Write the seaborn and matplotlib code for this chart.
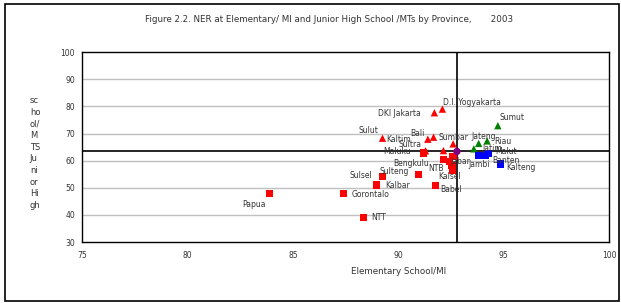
import matplotlib
matplotlib.use("Agg")
import matplotlib.pyplot as plt
import seaborn as sns
import pandas as pd
from matplotlib.patches import Rectangle
from matplotlib.ticker import MultipleLocator

# Data (NER 2003): elementary (x) vs junior high (y)
provinces = ["DKI Jakarta", "D.I. Yogyakarta", "Sulut", "Bali", "Kaltim", "Sumbar",
             "Sultra", "NAD",
             "Sumut", "Jateng", "Riau", "Jatim",
             "Jambi", "Banten", "Malut", "Kalteng",
             "Maluku", "Bengkulu", "Lampung", "Jabar", "NTB", "Kalsel", "Sulteng",
             "Sulsel", "Kalbar", "Babel", "Gorontalo", "Papua", "NTT",
             "Indonesia"]
elementary = [91.71, 92.09, 89.25, 91.67, 91.40, 92.60,
              91.29, 92.14,
              94.72, 93.81, 94.21, 93.58,
              93.83, 94.12, 94.26, 94.85,
              91.18, 92.13, 92.43, 92.60, 92.55, 92.58, 90.95,
              89.26, 88.98, 91.76, 87.40, 83.89, 88.34,
              92.78]
junior = [77.66, 79.01, 68.28, 68.64, 67.91, 66.19,
          63.63, 63.70,
          72.89, 66.36, 67.28, 64.36,
          61.98, 61.98, 62.53, 58.75,
          62.78, 60.51, 59.60, 61.43, 58.30, 56.30, 54.84,
          54.21, 51.06, 50.81, 47.99, 47.88, 39.08,
          63.40]
group = ["low_elem_high_jun"] * 8 + ["high_both"] * 4 + ["high_elem_low_jun"] * 4 \
        + ["low_both"] * 13 + ["national"]

# label offsets in pixels (dx, dy, ha); unlisted provinces have no label
label_pos = {
    "D.I. Yogyakarta": (1, 7, "left"), "DKI Jakarta": (-14, -1, "right"),
    "Sumut": (2, 8, "left"), "Sulut": (-4, 8, "right"), "Bali": (-9, 4, "right"),
    "Kaltim": (-17, 0, "right"), "Sultra": (-4, 6, "right"), "Maluku": (-12, 2, "right"),
    "Sumbar": (-15, 6, "left"), "Jateng": (-7, 7, "left"), "Riau": (7, -1, "left"),
    "Jatim": (9, 0, "left"), "Malut": (7, 2, "left"), "Banten": (7, -5, "left"),
    "Jambi": (-11, -9, "left"), "Kalteng": (6, -3, "left"), "Bengkulu": (-14, -4, "right"),
    "Jabar": (-3, -5, "left"), "NTB": (-8, -3, "right"), "Kalsel": (-14, -6, "left"),
    "Babel": (5, -4, "left"), "Sulteng": (-9, 3, "right"), "Sulsel": (-10, 1, "right"),
    "Kalbar": (8, -1, "left"), "Gorontalo": (8, -1, "left"), "Papua": (-4, -11, "right"),
    "NTT": (8, 0, "left"),
}

df = pd.DataFrame({"province": provinces, "elementary": elementary,
                   "junior": junior, "group": group})

sns.set_style("white")
plt.rcParams["font.family"] = ["DejaVu Sans"]

fig = plt.figure(figsize=(6.21, 3.03), dpi=100)
ax = fig.add_axes([0.132, 0.201, 0.849, 0.627])

# grid lines
for yv in range(40, 100, 10):
    ax.axhline(yv, color="#c0c0c0", lw=1, zorder=0)

# national average cross-hair
ax.axvline(92.78, color="black", lw=1.2, zorder=1)
ax.axhline(63.4, color="black", lw=1.2, zorder=1)

palette = {"low_elem_high_jun": "#ff0000", "high_both": "#008000",
           "high_elem_low_jun": "#0000ff", "low_both": "#ff0000", "national": "#800080"}
markers = {"low_elem_high_jun": "^", "high_both": "^",
           "high_elem_low_jun": "s", "low_both": "s", "national": "o"}
sns.scatterplot(data=df, x="elementary", y="junior", hue="group", style="group",
                palette=palette, markers=markers, s=28, linewidth=0,
                legend=False, ax=ax, zorder=3)

for name, xv, yv in zip(provinces, elementary, junior):
    if name in label_pos:
        dx, dy, ha = label_pos[name]
        ax.annotate(name, (xv, yv), xytext=(dx, dy), textcoords="offset pixels",
                    ha=ha, va="center", fontsize=5.5, color="#333333", zorder=4)

ax.set_xlim(75, 100)
ax.set_ylim(30, 100)
ax.xaxis.set_major_locator(MultipleLocator(5))
ax.xaxis.set_minor_locator(MultipleLocator(1))
ax.yaxis.set_major_locator(MultipleLocator(10))
ax.tick_params(axis="both", which="major", labelsize=5.5, length=3, width=0.8,
               direction="inout", colors="black", labelcolor="#333333")
ax.tick_params(axis="x", which="minor", length=2, width=0.6, direction="inout")
ax.tick_params(axis="x", which="major", pad=5)
for sp in ax.spines.values():
    sp.set_color("black")
    sp.set_linewidth(1)

ax.set_xlabel("Elementary School/MI", fontsize=6.3, color="#333333")
ax.set_ylabel("")
ax.xaxis.set_label_coords(0.6, -0.13)

fig.text(0.048, 0.495, "sc\nho\nol/\nM\nTS\nJu\nni\nor\nHi\ngh", ha="left", va="center",
         fontsize=6, linespacing=1.38, color="#333333")
fig.text(0.53, 0.934, "Figure 2.2. NER at Elementary/ MI and Junior High School /MTs by Province,       2003",
         ha="center", va="center", fontsize=6.3, color="#333333")

fig.patches.append(Rectangle((0.008, 0.008), 0.988, 0.98, transform=fig.transFigure,
                             fill=False, edgecolor="black", lw=1.2))

fig.savefig("out.png", dpi=100)
